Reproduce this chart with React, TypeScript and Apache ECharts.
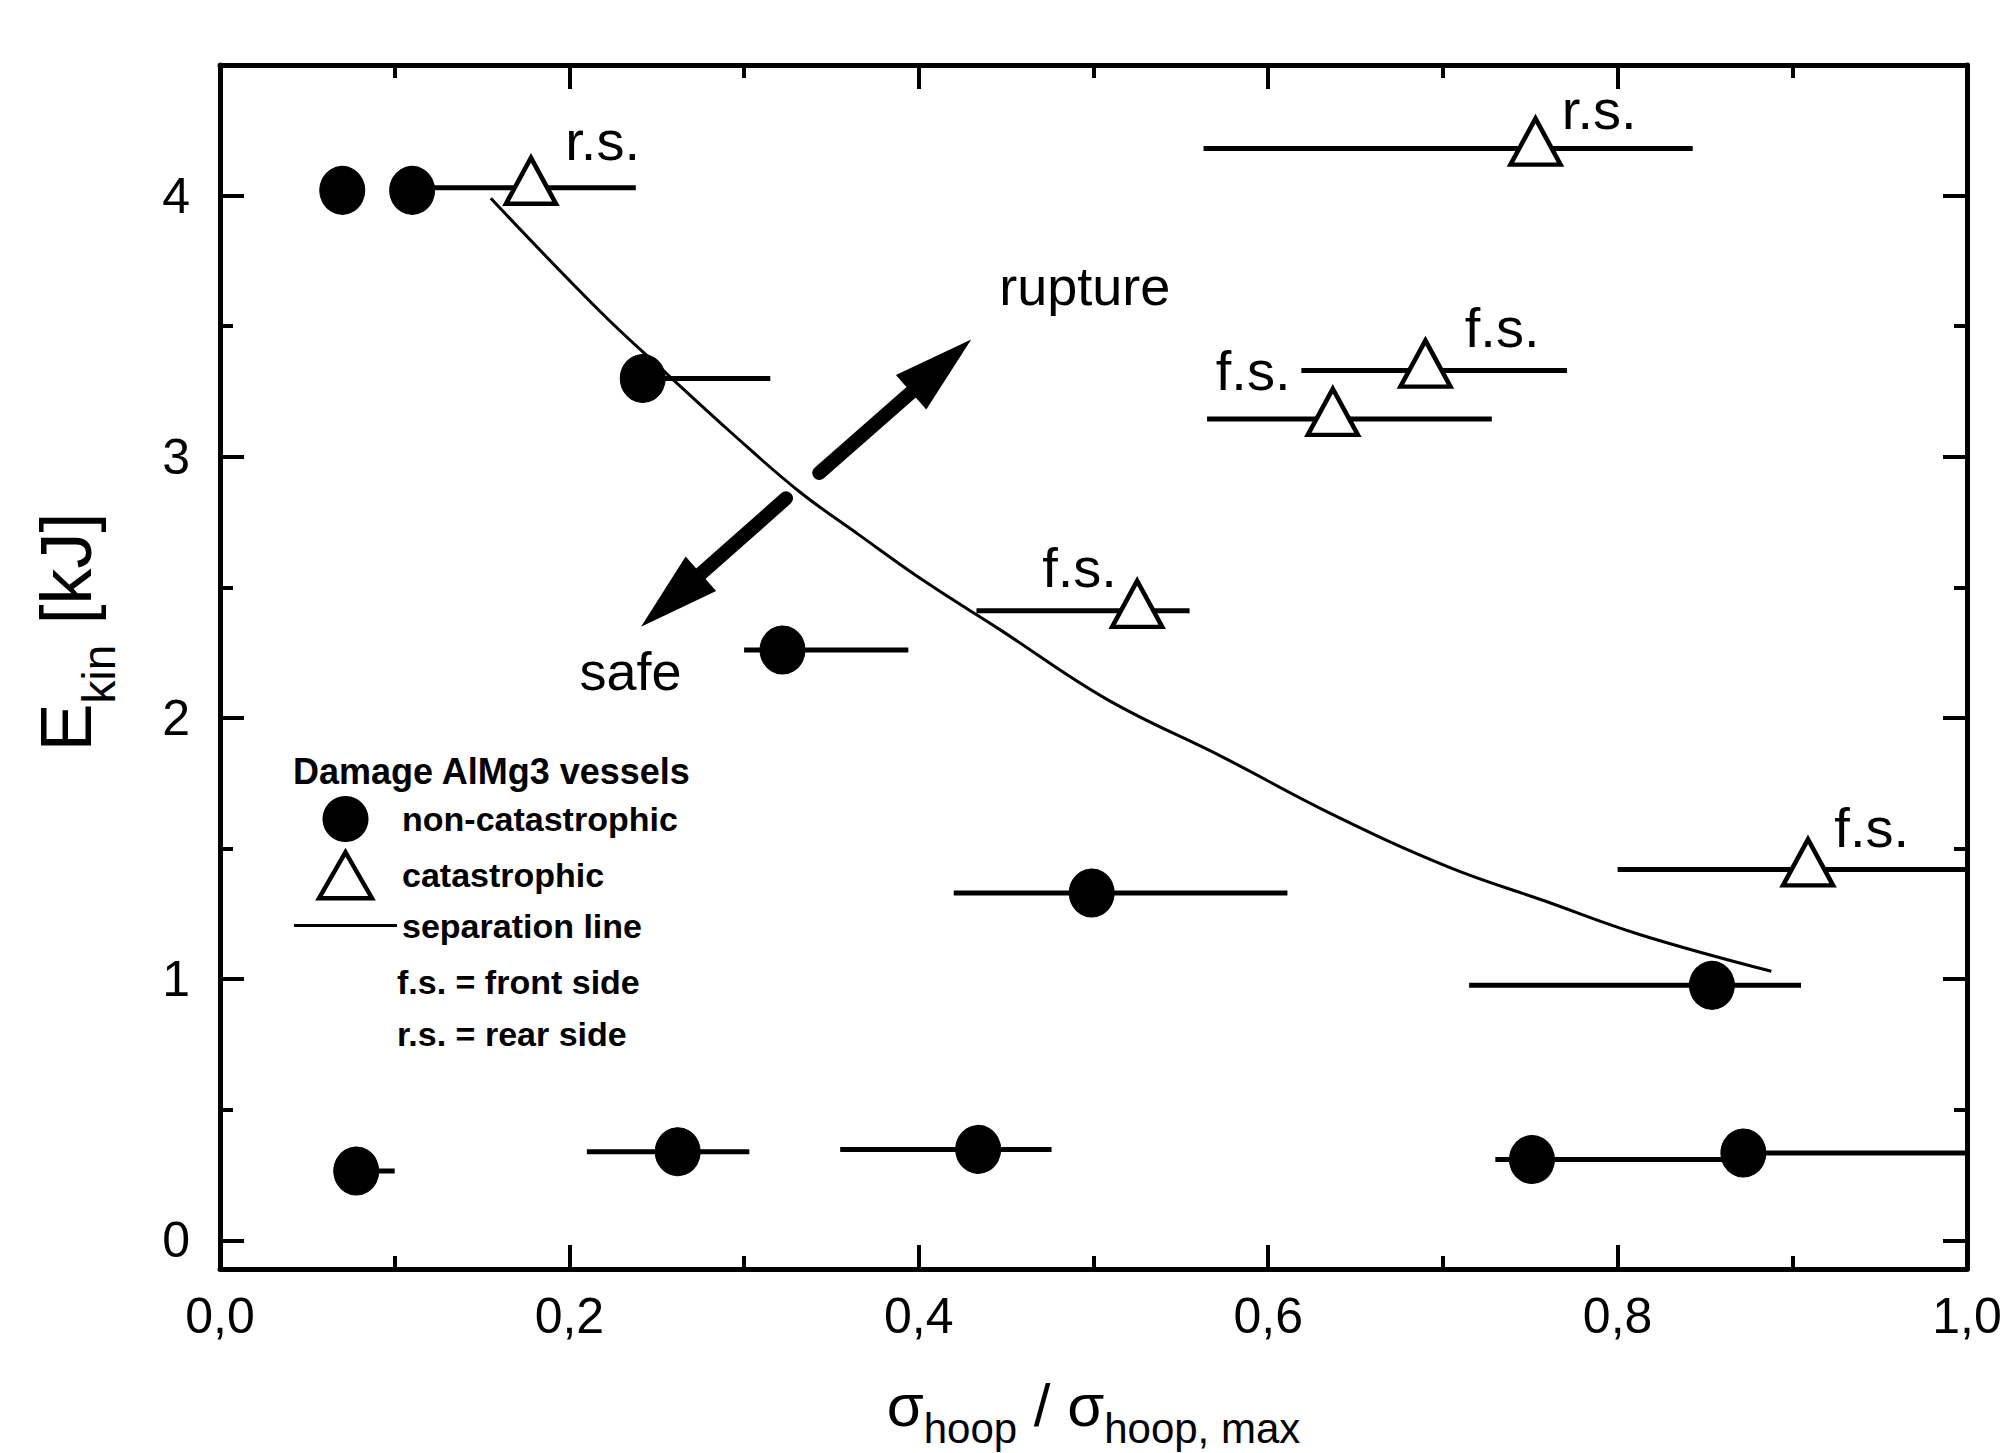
import React, { useEffect, useRef } from 'react';
import * as echarts from 'echarts';

const FONT = '"Liberation Sans", Arial, Helvetica, sans-serif';

// Non-catastrophic damage (filled circles) with horizontal error bars
const nonCatX = [0.070, 0.110, 0.242, 0.322, 0.078, 0.262, 0.434, 0.499, 0.854, 0.751, 0.872];
const nonCatY = [4.02, 4.02, 3.30, 2.26, 0.265, 0.339, 0.348, 1.33, 0.976, 0.309, 0.334];
const nonCatXLow: (number | null)[] = [null, null, 0.242, 0.300, 0.078, 0.210, 0.355, 0.420, 0.715, 0.730, 0.860];
const nonCatXHigh: (number | null)[] = [null, null, 0.315, 0.394, 0.100, 0.303, 0.476, 0.611, 0.905, 0.860, 1.0];

// Catastrophic damage (open triangles) with horizontal error bars
const catX = [0.178, 0.753, 0.690, 0.637, 0.525, 0.909];
const catY = [4.03, 4.18, 3.33, 3.145, 2.41, 1.42];
const catXLow = [0.112, 0.563, 0.619, 0.565, 0.433, 0.800];
const catXHigh = [0.238, 0.843, 0.771, 0.728, 0.555, 1.0];
const catNote = ['r.s.', 'r.s.', 'f.s.', 'f.s.', 'f.s.', 'f.s.'];

// Separation line
const sepX = [0.155, 0.217, 0.257, 0.293, 0.331, 0.366, 0.404, 0.446, 0.508, 0.574, 0.637, 0.703, 0.758, 0.813, 0.888];
const sepY = [3.99, 3.56, 3.31, 3.09, 2.87, 2.70, 2.52, 2.34, 2.07, 1.85, 1.63, 1.43, 1.30, 1.17, 1.03];

// Arrows (tail -> tip)
const arrowFrom = [[0.343, 2.938], [0.324, 2.841]];
const arrowTo = [[0.430, 3.449], [0.241, 2.349]];

// Region annotations
const regionText = ['rupture', 'safe'];
const regionX = [0.495, 0.235];
const regionY = [3.655, 2.18];

// Legend entries and extra legend lines
const legendNames = ['non-catastrophic', 'catastrophic', 'separation line'];
const legendTitle = 'Damage AlMg3 vessels';
const legendNotes = ['f.s. = front side', 'r.s. = rear side'];

// label placement styles for the notes
const noteSide = ['right', 'right', 'right', 'left', 'left', 'right'];
const noteOffset = [[2, -40], [-6, -32], [7, -36], [-10, -41], [12, -36], [-6, -35]];

const axisCommon = {
  axisLine: { show: true, onZero: false, lineStyle: { color: '#000', width: 5 } },
  axisTick: { show: true, inside: true, length: 24, lineStyle: { color: '#000', width: 4 } },
  minorTick: { show: true, splitNumber: 2, length: 13, lineStyle: { color: '#000', width: 4 } },
  splitLine: { show: false },
  minorSplitLine: { show: false },
};

function buildOption(): any {
  const barData: number[][] = [];
  nonCatX.forEach((_, i) => {
    if (nonCatXLow[i] != null && nonCatXHigh[i] != null) barData.push([nonCatXLow[i] as number, nonCatXHigh[i] as number, nonCatY[i]]);
  });
  catX.forEach((_, i) => barData.push([catXLow[i], catXHigh[i], catY[i]]));

  const labelStyle = { fontSize: 56, fontFamily: FONT, color: '#000' };
  const legendFont = `bold 34px ${FONT}`;

  return {
    animation: false,
    backgroundColor: '#fff',
    grid: { left: 220, right: 41, top: 65, bottom: 184, outerBoundsMode: 'none' },
    xAxis: [
      {
        type: 'value', position: 'bottom', min: 0, max: 1, interval: 0.2, ...axisCommon,
        axisLabel: {
          show: true, margin: 22, fontSize: 50, fontFamily: FONT, color: '#000',
          formatter: (v: number) => v.toFixed(1).replace('.', ','),
        },
        name: '{s|σ}{b|hoop}{s| / σ}{b|hoop, max}',
        nameLocation: 'middle', nameGap: 106,
        nameTextStyle: {
          color: '#000', fontFamily: FONT,
          rich: {
            s: { fontSize: 60, lineHeight: 60, fontFamily: FONT, color: '#000', verticalAlign: 'top' },
            b: { fontSize: 42, lineHeight: 42, fontFamily: FONT, color: '#000', verticalAlign: 'top', padding: [32, 0, 0, 0] },
          },
        },
      },
      {
        type: 'value', position: 'top', min: 0, max: 1, interval: 0.2, ...axisCommon,
        axisLabel: { show: false },
      },
    ],
    yAxis: [
      {
        type: 'value', position: 'left', min: -0.11, max: 4.5, splitNumber: 5, ...axisCommon,
        axisLabel: {
          show: true, margin: 30, fontSize: 50, fontFamily: FONT, color: '#000',
          showMinLabel: false, showMaxLabel: false,
          formatter: (v: number) => (Number.isInteger(v) ? String(v) : ''),
        },
        name: '{e|E}{k|kin}{e| [kJ]}',
        nameLocation: 'middle', nameGap: 118,
        nameTextStyle: {
          color: '#000', fontFamily: FONT, padding: [0, 0, 0, 70],
          rich: {
            e: { fontSize: 72, lineHeight: 72, fontFamily: FONT, color: '#000', verticalAlign: 'top' },
            k: { fontSize: 46, lineHeight: 46, fontFamily: FONT, color: '#000', verticalAlign: 'top', padding: [46, 0, 0, 0] },
          },
        },
      },
      {
        type: 'value', position: 'right', min: -0.11, max: 4.5, splitNumber: 5, ...axisCommon,
        axisLabel: { show: false },
      },
    ],
    legend: {
      data: [
        { name: legendNames[0], icon: 'circle' },
        { name: legendNames[1], icon: 'path://M50,0L100,87L0,87Z', itemStyle: { color: '#fff', borderColor: '#000', borderWidth: 4.5 } },
        { name: legendNames[2], icon: 'path://M0,0H100V3H0Z', itemStyle: { color: '#000', borderWidth: 0 } },
      ],
      orient: 'vertical', left: 294, top: 796, padding: 0,
      itemWidth: 103, itemHeight: 46, itemGap: 8, selectedMode: false,
      symbolKeepAspect: true,
      textStyle: { fontSize: 34, fontWeight: 'bold', fontFamily: FONT, color: '#000' },
    },
    graphic: [
      { type: 'text', x: 293, y: 771, style: { text: legendTitle, font: `bold 36px ${FONT}`, fill: '#000', textVerticalAlign: 'middle', verticalAlign: 'middle' } },
      { type: 'text', x: 397, y: 982, style: { text: legendNotes[0], font: legendFont, fill: '#000', textVerticalAlign: 'middle', verticalAlign: 'middle' } },
      { type: 'text', x: 397, y: 1034, style: { text: legendNotes[1], font: legendFont, fill: '#000', textVerticalAlign: 'middle', verticalAlign: 'middle' } },
    ],
    series: [
      {
        type: 'custom', name: 'error bars', silent: true, z: 2, clip: true,
        encode: { x: [0, 1], y: 2 },
        data: barData,
        renderItem: (_p: any, api: any) => {
          const y = api.value(2);
          const a = api.coord([api.value(0), y]);
          const b = api.coord([api.value(1), y]);
          return { type: 'line', shape: { x1: a[0], y1: a[1], x2: b[0], y2: b[1] }, style: { stroke: '#000', lineWidth: 5 } };
        },
      },
      {
        type: 'line', name: legendNames[2], z: 3,
        data: sepX.map((x, i) => [x, sepY[i]]),
        smooth: 0.4, symbol: 'none',
        lineStyle: { color: '#000', width: 3 }, itemStyle: { color: '#000' },
      },
      {
        type: 'custom', name: 'arrows', silent: true, z: 3,
        encode: { x: [0, 2], y: [1, 3] },
        data: arrowFrom.map((f, i) => [f[0], f[1], arrowTo[i][0], arrowTo[i][1]]),
        renderItem: (_p: any, api: any) => {
          const a = api.coord([api.value(0), api.value(1)]);
          const b = api.coord([api.value(2), api.value(3)]);
          const dx = b[0] - a[0];
          const dy = b[1] - a[1];
          const len = Math.hypot(dx, dy);
          const ux = dx / len, uy = dy / len;
          const nx = -uy, ny = ux;
          const headLen = 80, headHalf = 23;
          const bx = b[0] - ux * headLen, by = b[1] - uy * headLen;
          return {
            type: 'group',
            children: [
              { type: 'line', shape: { x1: a[0], y1: a[1], x2: bx + ux * 10, y2: by + uy * 10 }, style: { stroke: '#000', lineWidth: 14, lineCap: 'round' } },
              { type: 'polygon', shape: { points: [[b[0], b[1]], [bx + nx * headHalf, by + ny * headHalf], [bx - nx * headHalf, by - ny * headHalf]] }, style: { fill: '#000' } },
            ],
          };
        },
      },
      {
        type: 'scatter', name: legendNames[0], z: 5,
        symbol: 'circle', symbolSize: [45, 48],
        itemStyle: { color: '#000', borderColor: '#000', opacity: 1 },
        data: nonCatX.map((x, i) => [x, nonCatY[i]]),
      },
      {
        type: 'scatter', name: legendNames[1], z: 6,
        symbol: 'triangle', symbolSize: [50, 46], symbolOffset: [0, -7],
        itemStyle: { color: '#fff', borderColor: '#000', borderWidth: 4.5, opacity: 1 },
        data: catX.map((x, i) => ({
          value: [x, catY[i]],
          label: {
            show: true, formatter: catNote[i], position: noteSide[i],
            offset: noteOffset[i], ...labelStyle,
          },
        })),
      },
      {
        type: 'custom', name: 'regions', silent: true, z: 7,
        encode: { x: 0, y: 1 },
        data: regionX.map((x, i) => [x, regionY[i]]),
        renderItem: (p: any, api: any) => {
          const c = api.coord([api.value(0), api.value(1)]);
          return {
            type: 'text', x: c[0], y: c[1],
            style: {
              text: regionText[p.dataIndex], font: `54px ${FONT}`, fill: '#000',
              textAlign: 'center', align: 'center', textVerticalAlign: 'middle', verticalAlign: 'middle',
            },
          };
        },
      },
    ],
  };
}

export default function App() {
  const ref = useRef<HTMLDivElement>(null);
  useEffect(() => {
    document.body.style.margin = '0';
    const chart = echarts.init(ref.current as HTMLDivElement, undefined, { renderer: 'svg' });
    chart.setOption(buildOption());
    return () => chart.dispose();
  }, []);
  return (
    <div
      ref={ref}
      style={{ position: 'absolute', left: 0, top: 0, width: 2008, height: 1453, background: '#fff' }}
    />
  );
}
